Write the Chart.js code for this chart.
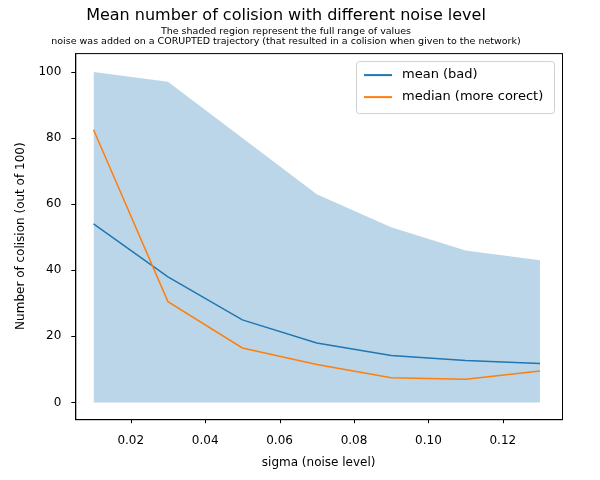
<!DOCTYPE html>
<html>
<head>
<script src="https://cdn.jsdelivr.net/npm/chart.js@4"></script>
<style>
  body { margin: 0; background: #fff; }
  #wrap { width: 600px; height: 480px; }
</style>
</head>
<body>
<div id="wrap"><canvas id="chart"></canvas></div>
<script>
const sigma = [0.01, 0.03, 0.05, 0.07, 0.09, 0.11, 0.13];
const maxVals = [100, 97, 80, 63, 53, 46, 43];
const minVals = [0, 0, 0, 0, 0, 0, 0];
const meanVals = [54, 38, 25, 18, 14.2, 12.7, 11.8];
const medianVals = [82.5, 30.5, 16.5, 11.5, 7.5, 7, 9.5];
const xTicks = [0.02, 0.04, 0.06, 0.08, 0.10, 0.12];
const yTicks = [0, 20, 40, 60, 80, 100];

const pts = arr => arr.map((v, i) => ({ x: sigma[i], y: v }));
const font = { family: "DejaVu Sans", size: 12 };

// frame, tick marks and legend box inside the plot area
const insideLegend = {
    id: "insideLegend",
    afterDraw(c) {
        const ctx = c.ctx, a = c.chartArea;
        ctx.save();
        ctx.strokeStyle = "#000";
        ctx.lineWidth = 1;
        ctx.strokeRect(a.left + 0.5, a.top + 0.5, a.right - a.left, a.bottom - a.top);
        ctx.beginPath();
        xTicks.forEach(v => {
            const px = Math.round(c.scales.x.getPixelForValue(v)) + 0.5;
            ctx.moveTo(px, a.bottom); ctx.lineTo(px, a.bottom + 4);
        });
        yTicks.forEach(v => {
            const py = Math.round(c.scales.y.getPixelForValue(v)) + 0.5;
            ctx.moveTo(a.left, py); ctx.lineTo(a.left - 4, py);
        });
        ctx.stroke();

        const items = c.data.datasets.filter(d => d.label);
        const w = 198, h = 52, x = a.right - w - 8, y = a.top + 8;
        ctx.fillStyle = "rgba(255,255,255,0.8)";
        ctx.strokeStyle = "#d0d0d0";
        ctx.beginPath();
        ctx.roundRect(x + 0.5, y + 0.5, w, h, 3);
        ctx.fill(); ctx.stroke();
        ctx.font = "13px DejaVu Sans";
        ctx.textBaseline = "middle";
        items.forEach((d, i) => {
            const ly = y + 14 + i * 22;
            ctx.strokeStyle = d.borderColor;
            ctx.lineWidth = 2;
            ctx.beginPath(); ctx.moveTo(x + 8, ly); ctx.lineTo(x + 36, ly); ctx.stroke();
            ctx.fillStyle = "#000";
            ctx.fillText(d.label, x + 46, ly);
        });
        ctx.restore();
    }
};

new Chart(document.getElementById("chart"), {
    type: "line",
    data: {
        datasets: [
            { data: pts(minVals), borderWidth: 0, pointRadius: 0, fill: false, borderColor: "rgba(0,0,0,0)", order: 10 },
            { data: pts(maxVals), borderWidth: 0, pointRadius: 0, fill: "-1", borderColor: "rgba(0,0,0,0)",
              backgroundColor: "rgba(31,119,180,0.3)", order: 9 },
            { label: "mean (bad)", data: pts(meanVals), borderColor: "#1f77b4", borderWidth: 1.5, pointRadius: 0, fill: false, order: 2 },
            { label: "median (more corect)", data: pts(medianVals), borderColor: "#ff7f0e", borderWidth: 1.5, pointRadius: 0, fill: false, order: 1 }
        ]
    },
    options: {
        responsive: true,
        maintainAspectRatio: false,
        animation: false,
        layout: { padding: { left: 10, right: 38, top: 4, bottom: 6 } },
        plugins: {
            legend: { display: false },
            tooltip: { enabled: false },
            title: { display: true, text: "Mean number of colision with different noise level",
                     color: "#000", font: { family: "DejaVu Sans", size: 16, weight: "normal" }, padding: { top: 2, bottom: 1 } },
            subtitle: { display: true,
                        text: ["The shaded region represent the full range of values",
                               "noise was added on a CORUPTED trajectory (that resulted in a colision when given to the network)"],
                        color: "#000", font: { family: "DejaVu Sans", size: 9.5, lineHeight: 1.1 }, padding: { bottom: 6 } }
        },
        scales: {
            x: {
                type: "linear", min: 0.0051, max: 0.1359,
                afterBuildTicks: s => { s.ticks = xTicks.map(v => ({ value: v })); },
                ticks: { color: "#000", font, padding: 6, callback: v => v.toFixed(2) },
                grid: { display: false },
                border: { color: "#000" },
                title: { display: true, text: "sigma (noise level)", color: "#000", font, padding: { top: 2 } }
            },
            y: {
                min: -5.06, max: 105.7,
                afterBuildTicks: s => { s.ticks = yTicks.map(v => ({ value: v })); },
                ticks: { color: "#000", font, padding: 6 },
                grid: { display: false },
                border: { color: "#000" },
                title: { display: true, text: "Number of colision (out of 100)", color: "#000", font, padding: { bottom: 4 } }
            }
        }
    },
    plugins: [insideLegend]
});
</script>
</body>
</html>
